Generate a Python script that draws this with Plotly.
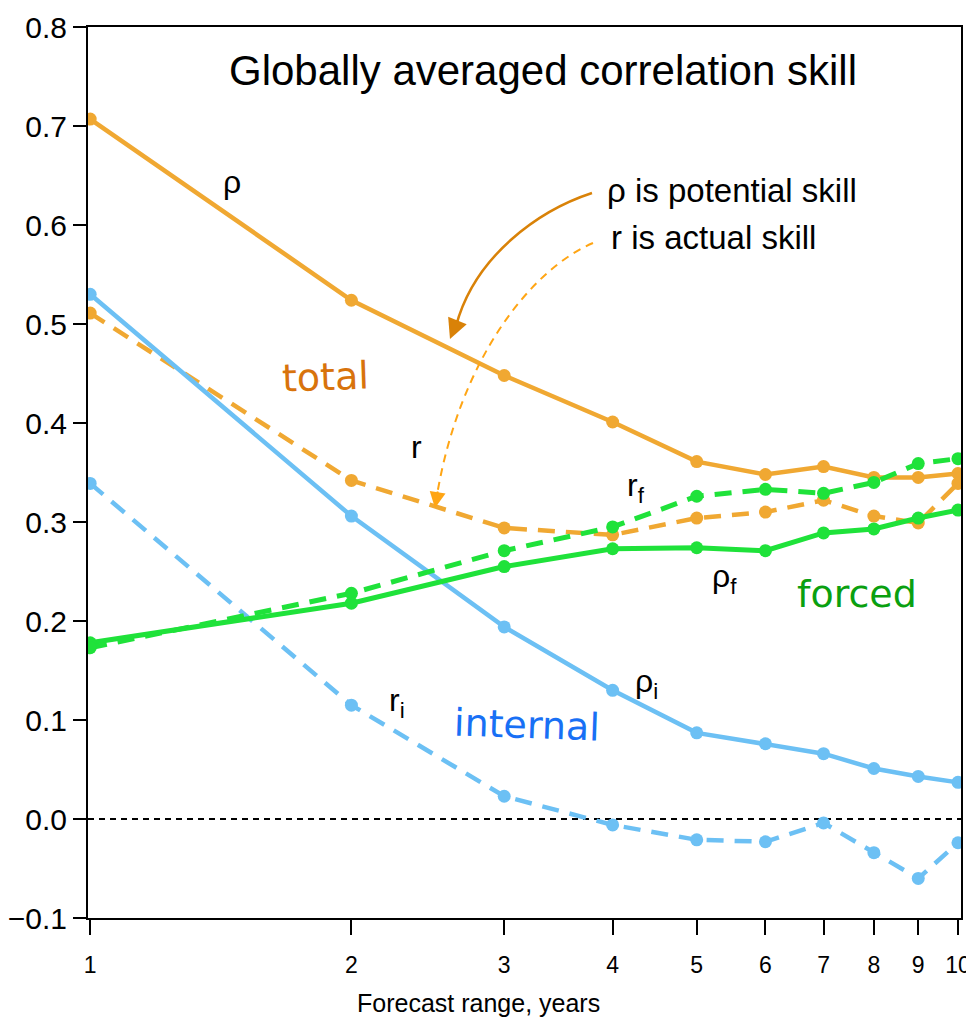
import numpy as np
import plotly.graph_objects as go

# ---------------- data ----------------
forecast_years = [1, 2, 3, 4, 5, 6, 7, 8, 9, 10]

rho_total = [0.707, 0.524, 0.448, 0.401, 0.361, 0.348, 0.356, 0.345, 0.345, 0.349]
r_total = [0.511, 0.342, 0.294, 0.287, 0.304, 0.310, 0.322, 0.306, 0.299, 0.339]

rho_internal = [0.530, 0.306, 0.194, 0.130, 0.087, 0.076, 0.066, 0.051, 0.043, 0.037]
r_internal = [0.339, 0.115, 0.023, -0.006, -0.021, -0.023, -0.004, -0.034, -0.060, -0.024]

rho_forced = [0.178, 0.218, 0.255, 0.273, 0.274, 0.271, 0.289, 0.293, 0.304, 0.312]
r_forced = [0.173, 0.228, 0.271, 0.295, 0.326, 0.333, 0.329, 0.340, 0.359, 0.364]

y_ticks = [-0.1, 0.0, 0.1, 0.2, 0.3, 0.4, 0.5, 0.6, 0.7, 0.8]
x_ticks = [1, 2, 3, 4, 5, 6, 7, 8, 9, 10]

# ---------------- styles ----------------
ORANGE = "#f0a832"
BLUE = "#6cc0f4"
GREEN = "#1fe23a"
SANS = "Liberation Sans, Arial, sans-serif"
VERD = "DejaVu Sans, Verdana, sans-serif"

OFF = 8  # page body margin in the browser
W, H = 974 - OFF, 1022 - OFF
# plot area in page pixels: left 88, right 961, top 27, bottom 918
ML, MR, MT, MB = 88 - OFF, W - (961 - OFF), 27 - OFF, H - (918 - OFF)

fig = go.Figure()

def add_series(y, color, dash, width=4.5):
    fig.add_trace(go.Scatter(
        x=forecast_years, y=y, mode="lines+markers",
        line=dict(color=color, width=width, dash=dash),
        marker=dict(color=color, size=13),
        showlegend=False, hoverinfo="skip"))

DASH = "17px,11px"
add_series(rho_total, ORANGE, "solid")
add_series(r_total, ORANGE, DASH)
add_series(rho_internal, BLUE, "solid")
add_series(r_internal, BLUE, DASH)
add_series(rho_forced, GREEN, "solid", 5)
add_series(r_forced, GREEN, DASH, 5)

# zero line
fig.add_shape(type="line", xref="paper", yref="y", x0=0, x1=1, y0=0, y1=0,
              line=dict(color="black", width=2, dash="6px,5px"), layer="below")

# helpers: page pixel -> paper
def px(x):
    return (x - OFF - ML) / (W - ML - MR)

def py(y):
    return (H - MB - (y - OFF)) / (H - MT - MB)

def bez(p0, c1, c2, p3):
    return "M {} {} C {} {}, {} {}, {} {}".format(
        px(p0[0]), py(p0[1]), px(c1[0]), py(c1[1]),
        px(c2[0]), py(c2[1]), px(p3[0]), py(p3[1]))

# curved arrows
fig.add_shape(type="path", xref="paper", yref="paper",
              path=bez((592, 193), (540, 210), (475, 255), (456, 326)),
              line=dict(color="#d98208", width=2.5))
fig.add_shape(type="path", xref="paper", yref="paper",
              path=bez((593, 243), (530, 270), (460, 360), (437, 495)),
              line=dict(color="#ffa514", width=2, dash="8px,6px"))
fig.add_annotation(xref="paper", yref="paper", x=px(450), y=py(339),
                   ax=8, ay=-20, text="", showarrow=True, arrowhead=2,
                   arrowsize=1.6, arrowwidth=2.5, arrowcolor="#d98208", standoff=0)
fig.add_annotation(xref="paper", yref="paper", x=px(435), y=py(508),
                   ax=3, ay=-18, text="", showarrow=True, arrowhead=2,
                   arrowsize=1.6, arrowwidth=2, arrowcolor="#ffa514", standoff=0)

def lab(x, y, text, size=32, color="black", family=SANS, angle=0):
    fig.add_annotation(x=np.log10(x), y=y, xref="x", yref="y", text=text,
                       showarrow=False, textangle=angle,
                       xanchor="center", yanchor="middle",
                       font=dict(family=family, size=size, color=color))

lab(1.457, 0.643, "ρ")
lab(2.375, 0.376, "r")
lab(4.26, 0.335, "r<sub>f</sub>")
lab(5.38, 0.243, "ρ<sub>f</sub>")
lab(4.38, 0.137, "ρ<sub>i</sub>")
lab(2.258, 0.118, "r<sub>i</sub>")
lab(1.865, 0.446, "total", size=38, color="#d8730c", family=VERD, angle=-2)
lab(3.19, 0.095, "internal", size=38, color="#1870f5", family=VERD, angle=2)
lab(7.65, 0.227, "forced", size=38, color="#0aa010", family=VERD)

def ptext(x, y, text, size, xanchor="center"):
    fig.add_annotation(xref="paper", yref="paper", x=px(x), y=py(y),
                       xanchor=xanchor, yanchor="middle", text=text,
                       showarrow=False,
                       font=dict(family=SANS, size=size, color="black"))

# title, key text, x-axis title
ptext(543, 70, "Globally averaged correlation skill", 42)
ptext(605, 190, "ρ is potential skill", 33, "left")
ptext(609, 237, "r is actual skill", 33, "left")
ptext(478, 1003, "Forecast range, years", 25)

fig.update_xaxes(type="log", range=[-0.0025, 1.0035], automargin=False,
                 tickvals=x_ticks, ticktext=[str(v) for v in x_ticks],
                 ticks="outside", ticklen=15, tickwidth=2, tickcolor="black",
                 ticklabelstandoff=10,
                 showline=True, linecolor="black", linewidth=2, mirror=True,
                 showgrid=False, zeroline=False,
                 tickfont=dict(family=SANS, size=23, color="black"))
fig.update_yaxes(range=[-0.1, 0.8], tickvals=y_ticks, automargin=False,
                 ticktext=["\u22120.1"] + ["{:.1f}".format(v) for v in y_ticks[1:]],
                 ticks="outside", ticklen=13, tickwidth=2, tickcolor="black",
                 showline=True, linecolor="black", linewidth=2, mirror=True,
                 showgrid=False, zeroline=False,
                 tickfont=dict(family=SANS, size=30, color="black"))

fig.update_layout(width=W, height=H, margin=dict(l=ML, r=MR, t=MT, b=MB),
                  plot_bgcolor="white", paper_bgcolor="white")

fig.write_html("out.html")
